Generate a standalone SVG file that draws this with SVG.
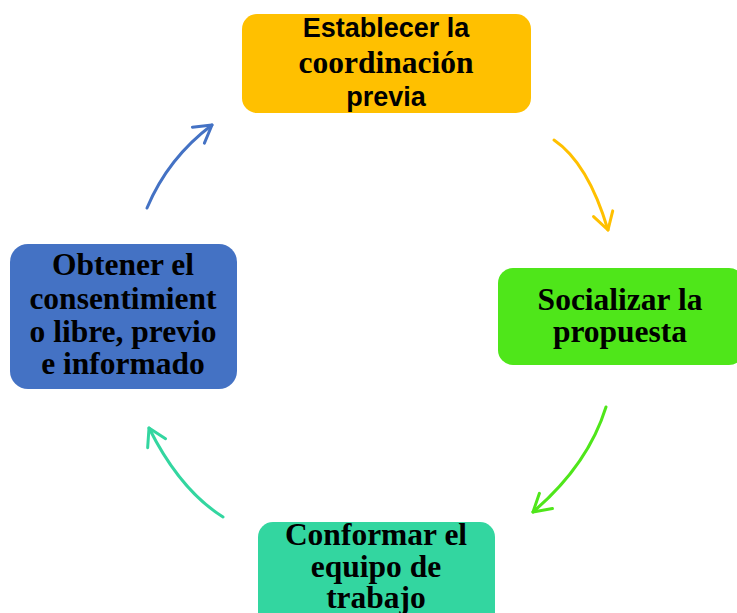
<svg xmlns="http://www.w3.org/2000/svg" width="737" height="613" viewBox="0 0 737 613">
<style>
.serif{font-family:"Liberation Serif","Times New Roman",serif;font-weight:bold;font-size:31.5px;fill:#000;text-anchor:middle}
.sans{font-family:"Liberation Sans",Arial,sans-serif;font-weight:bold;font-size:27px;fill:#000;text-anchor:middle}
.arc{fill:none;stroke-width:3;stroke-linecap:round}
.head{fill:none;stroke-width:3;stroke-linecap:round;stroke-linejoin:round}
</style>
<defs>
<marker id="mY" markerUnits="userSpaceOnUse" markerWidth="30" markerHeight="30" viewBox="-22 -15 30 30" refX="0" refY="0" orient="auto" overflow="visible"><path class="head" stroke="#FFC000" d="M-17,-10 L0,0 L-17,10"/></marker>
<marker id="mG" markerUnits="userSpaceOnUse" markerWidth="30" markerHeight="30" viewBox="-22 -15 30 30" refX="0" refY="0" orient="auto" overflow="visible"><path class="head" stroke="#4FE61A" d="M-17,-10 L0,0 L-17,10"/></marker>
<marker id="mT" markerUnits="userSpaceOnUse" markerWidth="30" markerHeight="30" viewBox="-22 -15 30 30" refX="0" refY="0" orient="auto" overflow="visible"><path class="head" stroke="#33D6A0" d="M-17,-10 L0,0 L-17,10"/></marker>
<marker id="mB" markerUnits="userSpaceOnUse" markerWidth="30" markerHeight="30" viewBox="-22 -15 30 30" refX="0" refY="0" orient="auto" overflow="visible"><path class="head" stroke="#4472C4" d="M-17,-10 L0,0 L-17,10"/></marker>
</defs>
<rect width="737" height="613" fill="#fff"/>
<g id="connectors">
<path class="arc" stroke="#FFC000" d="M554,140 Q588,163 608,230" marker-end="url(#mY)"/>
<path class="arc" stroke="#4FE61A" d="M606,407 Q588,465 533,512" marker-end="url(#mG)"/>
<path class="arc" stroke="#33D6A0" d="M223,517 Q180,490 149,428" marker-end="url(#mT)"/>
<path class="arc" stroke="#4472C4" d="M147,208 Q168,158 212,125" marker-end="url(#mB)"/>
</g>
<g id="node-coordinacion">
<rect x="242" y="14" width="289" height="99" rx="15" fill="#FFC000"/>
<text class="sans" x="386" y="37">Establecer la</text>
<text class="serif" x="386" y="73">coordinación</text>
<text class="sans" x="386" y="106">previa</text>
</g>
<g id="node-socializar">
<rect x="498" y="268" width="246" height="97" rx="15" fill="#4FE61A"/>
<text class="serif" x="620" y="310">Socializar la</text>
<text class="serif" x="620" y="342">propuesta</text>
</g>
<g id="node-equipo">
<rect x="258" y="522" width="237" height="110" rx="15" fill="#33D6A0"/>
<text class="serif" x="376" y="545">Conformar el</text>
<text class="serif" x="376" y="577">equipo de</text>
<text class="serif" x="376" y="608">trabajo</text>
</g>
<g id="node-consentimiento">
<rect x="10" y="244" width="227" height="145" rx="18" fill="#4472C4"/>
<text class="serif" x="123" y="275">Obtener el</text>
<text class="serif" x="123" y="309">consentimient</text>
<text class="serif" x="123" y="342">o libre, previo</text>
<text class="serif" x="123" y="374">e informado</text>
</g>
</svg>
